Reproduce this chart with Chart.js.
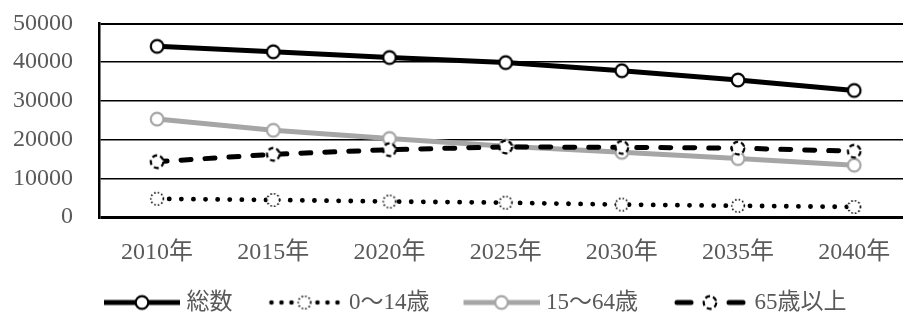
<!DOCTYPE html>
<html>
<head>
<meta charset="utf-8">
<script src="https://cdn.jsdelivr.net/npm/chart.js@4/dist/chart.umd.min.js"></script>
<style>
  html, body { margin: 0; padding: 0; background: #fff; }
  #wrap { width: 914px; height: 322px; position: relative; }
</style>
</head>
<body>
<div id="wrap"><canvas id="c" width="914" height="322"></canvas></div>
<script>
// ---- data ----
const years = ['2010年', '2015年', '2020年', '2025年', '2030年', '2035年', '2040年'];
const seriesNames = ['総数', '0～14歳', '15～64歳', '65歳以上'];
const total     = [44100, 42700, 41200, 39900, 37800, 35400, 32700];
const age0to14  = [4700, 4400, 4000, 3700, 3200, 2900, 2600];
const age15to64 = [25300, 22400, 20300, 18300, 16700, 15100, 13400];
const age65plus = [14300, 16200, 17400, 18100, 18000, 17800, 17000];
const yTicks    = [0, 10000, 20000, 30000, 40000, 50000];

const GRAY = '#a6a6a6';
const TXT = '#595959';
const FONT = "'Liberation Serif', 'Noto Sans CJK JP', serif";

function marker(stroke, dash, lw) {
  const c = document.createElement('canvas');
  c.width = 18; c.height = 18;
  const g = c.getContext('2d');
  g.beginPath(); g.arc(9, 9, 6.3, 0, Math.PI * 2);
  g.fillStyle = '#fff'; g.fill();
  g.setLineDash(dash); g.lineWidth = lw; g.strokeStyle = stroke; g.stroke();
  return c;
}
const mTotal = marker('#000', [], 2.2);
const mYoung = marker('#000', [1.5, 2.2], 1.6);
const mWork  = marker(GRAY, [], 2.2);
const mOld   = marker('#000', [5, 3], 2.2);

// legend samples
const BOXW = 95;
function sample(kind, m) {
  const c = document.createElement('canvas');
  c.width = BOXW + 10; c.height = 20;
  const g = c.getContext('2d');
  const cx = 5 + BOXW - 33, cy = 10;
  const x0 = 5 + BOXW - 71, x1 = 5 + BOXW + 5;
  if (kind === 'solid' || kind === 'gray') {
    g.strokeStyle = kind === 'solid' ? '#000' : GRAY;
    g.lineWidth = 5;
    g.beginPath(); g.moveTo(x0, cy); g.lineTo(x1, cy); g.stroke();
  } else if (kind === 'dot') {
    g.fillStyle = '#000';
    [-33, -23, -13, 13, 23, 33].forEach(d => { g.beginPath(); g.arc(cx + d, cy, 2.3, 0, Math.PI * 2); g.fill(); });
  } else if (kind === 'dash') {
    g.strokeStyle = '#000'; g.lineWidth = 5; g.lineCap = 'round';
    g.beginPath(); g.moveTo(cx - 33, cy); g.lineTo(cx - 19, cy); g.stroke();
    g.beginPath(); g.moveTo(cx + 19, cy); g.lineTo(cx + 33, cy); g.stroke();
  }
  g.drawImage(m, cx - 9, cy - 9);
  return c;
}
const legendImgs = [sample('solid', mTotal), sample('dot', mYoung), sample('gray', mWork), sample('dash', mOld)];

const toXY = arr => arr.map((v, i) => ({ x: i, y: v }));

const legendShift = {
  id: 'legendShift',
  afterLayout(chart) {
    const lg = chart.legend;
    if (!lg || !lg.lineWidths) return;
    const pad = 10;
    const start = (lg.left + pad + lg.right - lg.lineWidths[0]) / 2;
    const dx = 80 - start;
    lg.left += dx; lg.right += dx;
    lg.top += 2; lg.bottom += 2;
  }
};

new Chart(document.getElementById('c'), {
  type: 'line',
  data: {
    datasets: [
      { label: seriesNames[0], data: toXY(total), borderColor: '#000', borderWidth: 5,
        pointStyle: mTotal, pointRadius: 6, order: 3 },
      { label: seriesNames[1], data: toXY(age0to14), borderColor: '#000', borderWidth: 4.8,
        borderDash: [0.1, 12], borderCapStyle: 'round', pointStyle: mYoung, pointRadius: 6, order: 2 },
      { label: seriesNames[2], data: toXY(age15to64), borderColor: GRAY, borderWidth: 5,
        pointStyle: mWork, pointRadius: 6, order: 1 },
      { label: seriesNames[3], data: toXY(age65plus), borderColor: '#000', borderWidth: 5,
        borderDash: [10, 14], borderCapStyle: 'round', pointStyle: mOld, pointRadius: 6, order: 0 }
    ]
  },
  options: {
    responsive: false,
    animation: false,
    events: [],
    layout: { padding: { top: 23.5, right: 0, bottom: 0, left: 0 } },
    scales: {
      x: {
        type: 'linear', min: -0.5, max: 6.42,
        afterBuildTicks: axis => { axis.ticks = years.map((_, i) => ({ value: i })); },
        afterFit: s => { s.height = 62; },
        grid: { display: false, drawTicks: false },
        border: { display: false },
        ticks: { autoSkip: false, maxRotation: 0, padding: 21, color: TXT,
          font: { family: FONT, size: 24 },
          callback: v => years[v] }
      },
      y: {
        min: 0, max: 50000,
        afterBuildTicks: axis => { axis.ticks = yTicks.map(v => ({ value: v })); },
        afterFit: s => { s.width = 99; s.paddingTop = 0; s.paddingBottom = 0; },
        grid: { color: '#000', drawTicks: false,
          lineWidth: c => c.tick.value === 0 ? 3 : (c.tick.value === 50000 ? 2 : 1.5) },
        border: { display: true, color: '#000', width: 2.5 },
        ticks: { padding: 26, color: TXT, font: { family: FONT, size: 24 },
          callback: v => String(v) }
      }
    },
    plugins: {
      tooltip: { enabled: false },
      legend: {
        position: 'bottom',
        labels: {
          usePointStyle: true,
          pointStyleWidth: BOXW,
          padding: 10,
          color: TXT,
          font: { family: FONT, size: 23 },
          generateLabels: chart => chart.data.datasets.map((ds, i) => ({
            text: ds.label, pointStyle: legendImgs[i], fontColor: TXT, datasetIndex: i,
            hidden: false, lineWidth: 0, strokeStyle: 'rgba(0,0,0,0)', fillStyle: 'rgba(0,0,0,0)'
          }))
        }
      }
    }
  },
  plugins: [legendShift]
});
</script>
</body>
</html>
